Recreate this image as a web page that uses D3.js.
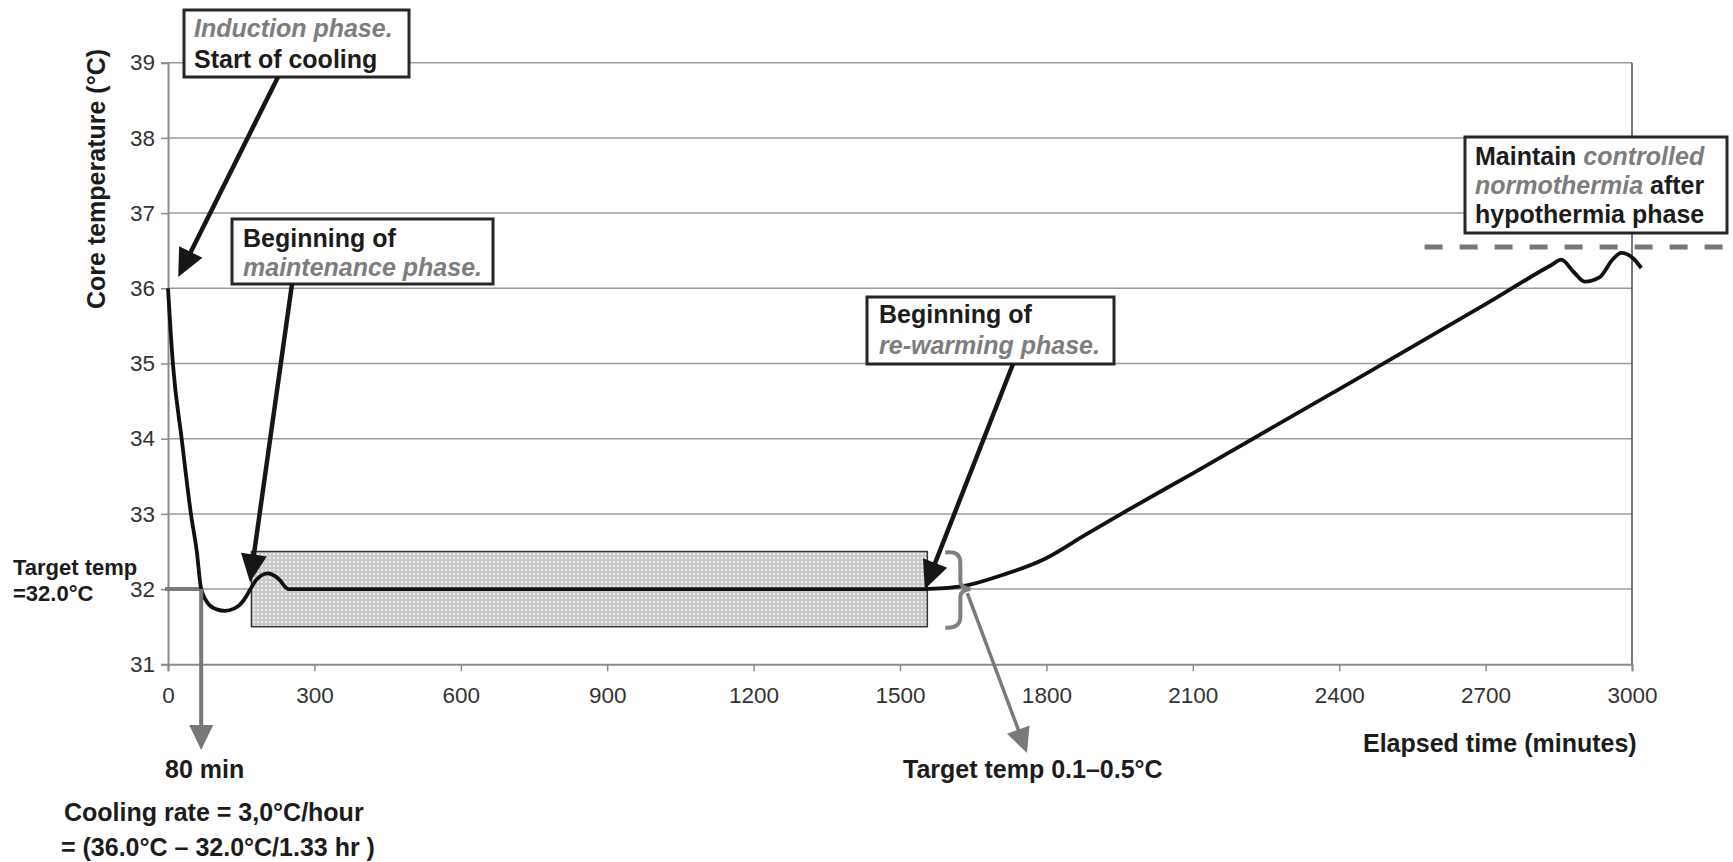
<!DOCTYPE html>
<meta charset="utf-8">
<style>
body { margin: 0; background: #fff; }
svg text { font-family: "Liberation Sans", Arial, sans-serif; }
/* grid and frame */
.grid line { stroke: #9c9c9c; stroke-width: 1.5px; }
.tick-label { font-size: 22.5px; fill: #333; }
/* annotation text: black bold, grey italic for the phase names */
.note { font-size: 25px; font-weight: bold; fill: #1c1c1c; }
.note .soft { fill: #7d7d7d; font-style: italic; }
.box { fill: #fff; stroke: #262626; stroke-width: 3px; }
</style>
<svg width="1733" height="862"></svg>
<script src="https://d3js.org/d3.v7.min.js"></script>
<script>
// core temperature curve (minutes, deg C)
var minutes  = [0, 10, 28, 47, 59, 68, 86, 100, 117, 135, 147, 160, 168, 182, 205, 220, 229, 240, 247,
                1551, 1629, 1711, 1793, 1882, 1964, 2100, 2400, 2700, 2835, 2855, 2880, 2903, 2934, 2960, 2978, 3002, 3019];
var coreTemp = [36.0, 35.0, 34.0, 33.0, 32.5, 32.0, 31.78, 31.73, 31.71, 31.74, 31.79, 31.9, 31.99, 32.13, 32.21, 32.17, 32.12, 32.03, 32.0,
                32.0, 32.04, 32.19, 32.39, 32.73, 33.04, 33.54, 34.66, 35.79, 36.31, 36.38, 36.22, 36.09, 36.15, 36.38, 36.47, 36.40, 36.27];

var xTicks = [0, 300, 600, 900, 1200, 1500, 1800, 2100, 2400, 2700, 3000];
var yTicks = [31, 32, 33, 34, 35, 36, 37, 38, 39];

var targetTemp = 32.0;
var targetCross = 68;          // minute where the cooling curve reaches target
var bandMinutes = [171, 1556]; // maintenance band
var bandTemps = [31.5, 32.5];
var normoTemp = 36.55;         // controlled normothermia level
var normoMinutes = [2575, 3190];

var svg = d3.select("svg");

var x = d3.scaleLinear().domain([0, 3000]).range([168, 1632]);
var y = d3.scaleLinear().domain([31, 39]).range([664.3, 62.7]);

var data = minutes.map(function(m, i) { return { t: m, v: coreTemp[i] }; });

// dotted fill for the maintenance band
var defs = svg.append("defs");
var pat = defs.append("pattern")
    .attr("id", "dots")
    .attr("patternUnits", "userSpaceOnUse")
    .attr("width", 4).attr("height", 4);
pat.append("rect").attr("width", 4).attr("height", 4).attr("fill", "#c9c9c9");
pat.append("rect").attr("x", 1).attr("y", 1).attr("width", 2).attr("height", 2).attr("fill", "#ececec");

// horizontal grid lines
svg.append("g")
    .attr("class", "grid")
  .selectAll("line")
  .data(yTicks.slice(1))
  .enter().append("line")
    .attr("x1", x(0)).attr("x2", x(3000))
    .attr("y1", function(d) { return y(d); })
    .attr("y2", function(d) { return y(d); });

// right frame line
svg.append("line")
    .attr("x1", x(3000)).attr("x2", x(3000))
    .attr("y1", y(39)).attr("y2", y(31))
    .attr("stroke", "#4a4a4a").attr("stroke-width", 1.5);

// axes
var xAxis = svg.append("g")
    .attr("transform", "translate(0," + y(31) + ")")
    .call(d3.axisBottom(x).tickValues(xTicks).tickSize(7).tickPadding(16).tickFormat(d3.format("d")));
var yAxis = svg.append("g")
    .attr("transform", "translate(" + x(0) + ",0)")
    .call(d3.axisLeft(y).tickValues(yTicks).tickSize(7).tickPadding(6).tickFormat(d3.format("d")));

[xAxis, yAxis].forEach(function(a) {
  a.select(".domain").attr("stroke", "#8a8a8a").attr("stroke-width", 2);
  a.selectAll(".tick line").attr("stroke", "#8a8a8a").attr("stroke-width", 1.5);
  a.selectAll(".tick text").attr("class", "tick-label").attr("font-size", null).attr("font-family", null);
});
xAxis.selectAll(".tick text").attr("dy", "0.71em");

// maintenance band
svg.append("rect")
    .attr("x", x(bandMinutes[0]))
    .attr("y", y(bandTemps[1]))
    .attr("width", x(bandMinutes[1]) - x(bandMinutes[0]))
    .attr("height", y(bandTemps[0]) - y(bandTemps[1]))
    .attr("fill", "url(#dots)")
    .attr("stroke", "#333").attr("stroke-width", 1.5);

// target temp marker and 80 min drop arrow
svg.append("line")
    .attr("x1", x(0) - 3).attr("x2", x(targetCross))
    .attr("y1", y(targetTemp)).attr("y2", y(targetTemp))
    .attr("stroke", "#7a7a7a").attr("stroke-width", 4);

// normothermia dashed level
svg.append("line")
    .attr("x1", x(normoMinutes[0])).attr("x2", x(normoMinutes[1]))
    .attr("y1", y(normoTemp)).attr("y2", y(normoTemp))
    .attr("stroke", "#777").attr("stroke-width", 5)
    .attr("stroke-dasharray", "18,17");

// temperature curve
var line = d3.line()
    .x(function(d) { return x(d.t); })
    .y(function(d) { return y(d.v); })
    .curve(d3.curveMonotoneX);

svg.append("path")
    .datum(data)
    .attr("d", line)
    .attr("fill", "none")
    .attr("stroke", "#111")
    .attr("stroke-width", 3.8)
    .attr("stroke-linejoin", "round");

// brace next to the band end
var bx = x(bandMinutes[1]) + 18, by = y(targetTemp);
svg.append("path")
    .attr("d", "M" + (bx) + "," + (y(bandTemps[1]) + 1) +
               " Q" + (bx + 15) + "," + (y(bandTemps[1]) - 1) + " " + (bx + 15) + "," + (y(bandTemps[1]) + 11) +
               " L" + (bx + 15) + "," + (by - 8) +
               " Q" + (bx + 15) + "," + (by - 1) + " " + (bx + 25) + "," + by +
               " Q" + (bx + 15) + "," + (by + 1) + " " + (bx + 15) + "," + (by + 8) +
               " L" + (bx + 15) + "," + (y(bandTemps[0]) - 10) +
               " Q" + (bx + 15) + "," + (y(bandTemps[0]) + 2) + " " + (bx) + "," + (y(bandTemps[0]) + 1))
    .attr("fill", "none")
    .attr("stroke", "#808080")
    .attr("stroke-width", 4);

function arrow(x1, y1, x2, y2, color, w, len, half) {
  var dx = x2 - x1, dy = y2 - y1, d = Math.sqrt(dx * dx + dy * dy);
  var ux = dx / d, uy = dy / d;
  var hx = x2 - ux * len, hy = y2 - uy * len;
  svg.append("line")
      .attr("x1", x1).attr("y1", y1)
      .attr("x2", hx + ux * 3).attr("y2", hy + uy * 3)
      .attr("stroke", color).attr("stroke-width", w);
  svg.append("path")
      .attr("d", "M" + x2 + "," + y2 +
                 "L" + (hx - uy * half) + "," + (hy + ux * half) +
                 "L" + (hx + uy * half) + "," + (hy - ux * half) + "Z")
      .attr("fill", color);
}

// grey arrows
arrow(x(targetCross), y(targetTemp), x(targetCross), 750, "#777", 4, 25, 12);
arrow(bx + 22, by + 4, 1027, 753, "#7a7a7a", 3.5, 25, 12);

// annotation boxes
var boxes = [
  { x: 184, y: 10, w: 225, h: 67, tx: 194, base: [37, 68],
    lines: [[["Induction phase.", true]], [["Start of cooling", false]]] },
  { x: 232, y: 219, w: 261, h: 65, tx: 243, base: [247, 276],
    lines: [[["Beginning of", false]], [["maintenance phase.", true]]] },
  { x: 867, y: 297, w: 247, h: 67, tx: 879, base: [323, 354],
    lines: [[["Beginning of", false]], [["re-warming phase.", true]]] },
  { x: 1465, y: 137, w: 262, h: 96, tx: 1475, base: [165, 194, 223],
    lines: [[["Maintain ", false], ["controlled", true]],
            [["normothermia", true], [" after", false]],
            [["hypothermia phase", false]]] }
];

boxes.forEach(function(b) {
  svg.append("rect")
      .attr("class", "box")
      .attr("x", b.x).attr("y", b.y)
      .attr("width", b.w).attr("height", b.h);
  b.lines.forEach(function(parts, i) {
    var t = svg.append("text")
        .attr("class", "note")
        .attr("x", b.tx).attr("y", b.base[i]);
    parts.forEach(function(p) {
      t.append("tspan")
          .attr("class", p[1] ? "soft" : null)
          .text(p[0]);
    });
  });
});

// black arrows from the boxes to the curve
arrow(278, 77, x(21), y(36.15), "#161616", 4.5, 28, 13);
arrow(292, 284, x(168), y(32.09), "#161616", 4.5, 28, 13);
arrow(1013, 364, x(1551), y(32.0), "#161616", 4.5, 28, 13);

// free text labels
var labels = [
  { x: 13, y: 575, size: 22, text: "Target temp" },
  { x: 13, y: 601, size: 22, text: "=32.0\u00b0C" },
  { x: 165, y: 778, size: 25, text: "80 min" },
  { x: 64, y: 821, size: 25, text: "Cooling rate = 3,0\u00b0C/hour" },
  { x: 61, y: 856, size: 25, text: "= (36.0\u00b0C \u2013 32.0\u00b0C/1.33 hr )" },
  { x: 903, y: 778, size: 25, text: "Target temp 0.1\u20130.5\u00b0C" },
  { x: 1363, y: 752, size: 25, text: "Elapsed time (minutes)" }
];

svg.selectAll(".free")
  .data(labels)
  .enter().append("text")
    .attr("class", "note free")
    .attr("x", function(d) { return d.x; })
    .attr("y", function(d) { return d.y; })
    .style("font-size", function(d) { return d.size + "px"; })
    .text(function(d) { return d.text; });

// y axis title
svg.append("text")
    .attr("class", "note")
    .attr("transform", "translate(105,179) rotate(-90)")
    .attr("text-anchor", "middle")
    .text("Core temperature (\u00b0C)");
</script>
